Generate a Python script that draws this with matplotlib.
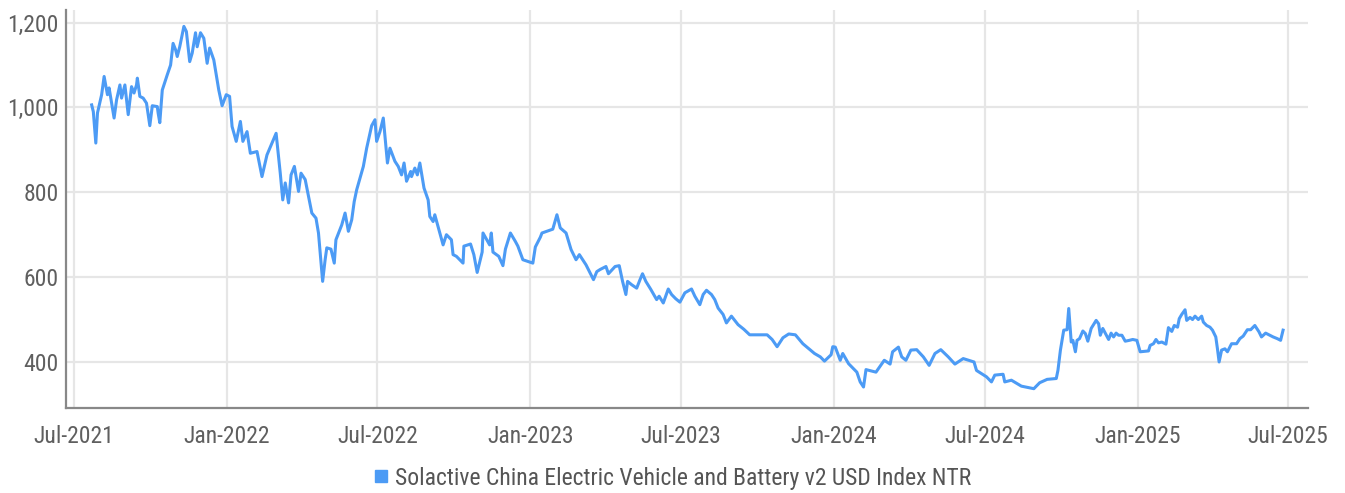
import pandas as pd
import matplotlib
matplotlib.use('Agg')
import matplotlib.pyplot as plt
import matplotlib.dates as mdates
from matplotlib import font_manager
from matplotlib.lines import Line2D
from matplotlib.ticker import FuncFormatter

# index level, as trading days counted from 2021-07-01
start_date = '2021-07-01'
day_offset = [
    21, 23, 26, 28, 33, 36, 40, 42, 45, 48, 51, 55, 57, 61, 65, 69, 72, 75, 76, 79,
    83, 87, 91, 94, 100, 101, 103, 106, 112, 116, 119, 122, 124, 127, 132, 135, 139, 142, 146, 148,
    152, 156, 160, 163, 168, 174, 178, 183, 187, 190, 195, 200, 203, 208, 212, 220, 226, 232, 243, 248,
    251, 254, 258, 261, 265, 270, 273, 278, 286, 291, 294, 299, 302, 304, 309, 313, 315, 322, 326, 330,
    334, 337, 340, 348, 352, 358, 362, 364, 368, 372, 377, 380, 386, 390, 394, 397, 400, 405, 406, 410,
    413, 416, 421, 426, 428, 432, 434, 444, 448, 454, 456, 460, 468, 469, 477, 481, 485, 491, 492, 500,
    502, 504, 511, 516, 519, 525, 531, 534, 540, 552, 555, 561, 563, 576, 581, 585, 592, 598, 604, 608,
    616, 625, 629, 633, 640, 643, 651, 656, 660, 664, 666, 671, 677, 681, 684, 688, 694, 701, 704, 709,
    715, 719, 724, 729, 735, 743, 747, 753, 757, 761, 767, 771, 775, 781, 785, 791, 799, 806, 813, 834,
    840, 846, 853, 860, 868, 877, 891, 898, 903, 911, 913, 916, 922, 925, 932, 936, 942, 946, 950, 953,
    965, 975, 982, 985, 992, 996, 1001, 1007, 1014, 1022, 1029, 1036, 1043, 1052, 1060, 1070, 1083, 1086, 1098, 1104,
    1108, 1118, 1120, 1128, 1140, 1155, 1162, 1171, 1182, 1184, 1187, 1191, 1195, 1197, 1200, 1202, 1205, 1207, 1210, 1214,
    1217, 1220, 1224, 1230, 1233, 1235, 1238, 1245, 1248, 1251, 1254, 1257, 1261, 1265, 1270, 1274, 1279, 1283, 1293, 1295,
    1299, 1302, 1305, 1309, 1314, 1317, 1321, 1324, 1328, 1330, 1333, 1337, 1339, 1343, 1346, 1349, 1353, 1357, 1359, 1363,
    1367, 1370, 1374, 1376, 1378, 1381, 1385, 1388, 1393, 1399, 1403, 1407, 1412, 1416, 1421, 1426, 1429, 1434, 1439, 1443,
    1448, 1452, 1455,
]
index_level = [
    1006, 990, 916, 987, 1030, 1073, 1030, 1046, 1010, 975, 1018, 1053, 1022, 1053, 983, 1049, 1034, 1053, 1069, 1026,
    1022, 1010, 957, 1004, 1002, 987, 964, 1041, 1077, 1100, 1151, 1136, 1120, 1143, 1191, 1179, 1108, 1128, 1176, 1143,
    1176, 1163, 1104, 1140, 1112, 1041, 1004, 1030, 1026, 955, 920, 967, 920, 943, 892, 896, 837, 888, 939, 845,
    782, 822, 775, 841, 861, 802, 845, 830, 751, 739, 704, 590, 641, 669, 666, 633, 688, 723, 751, 708,
    735, 778, 806, 861, 904, 957, 971, 920, 943, 975, 869, 904, 873, 861, 841, 869, 826, 849, 837, 857,
    841, 869, 810, 782, 743, 731, 747, 676, 700, 688, 653, 649, 633, 673, 678, 653, 611, 659, 704, 676,
    704, 659, 649, 627, 666, 704, 684, 673, 641, 633, 671, 694, 704, 713, 747, 716, 704, 665, 641, 653,
    629, 594, 613, 618, 625, 608, 625, 627, 590, 559, 590, 582, 574, 594, 608, 590, 571, 547, 555, 539,
    572, 559, 549, 541, 563, 572, 555, 535, 559, 569, 559, 547, 527, 512, 492, 508, 488, 477, 464, 464,
    453, 436, 457, 466, 464, 443, 420, 412, 402, 417, 436, 435, 404, 420, 396, 388, 376, 353, 341, 382,
    376, 404, 395, 424, 435, 412, 404, 428, 429, 412, 392, 420, 429, 412, 395, 408, 400, 380, 365, 353,
    369, 371, 353, 357, 343, 337, 351, 359, 361, 380, 428, 475, 476, 526, 447, 451, 424, 451, 455, 473,
    467, 449, 479, 498, 490, 463, 479, 453, 468, 459, 468, 463, 463, 449, 451, 453, 451, 424, 426, 439,
    443, 453, 445, 447, 442, 481, 472, 486, 482, 502, 512, 523, 498, 505, 500, 508, 500, 508, 494, 486,
    482, 475, 459, 431, 400, 428, 431, 424, 443, 443, 455, 461, 476, 476, 486, 471, 459, 468, 463, 459,
    455, 451, 475,
]
series_name = 'Solactive China Electric Vehicle and Battery v2 USD Index NTR'
y_ticks = [400, 600, 800, 1000, 1200]

available = {f.name for f in font_manager.fontManager.ttflist}
for fam in ['Liberation Sans Narrow', 'Roboto Condensed', 'DejaVu Sans']:
    if fam in available:
        plt.rcParams['font.family'] = fam
        break

dates = pd.Timestamp(start_date) + pd.to_timedelta(day_offset, unit='D')

fig = plt.figure(figsize=(13.45, 4.93), dpi=100)
ax = fig.add_axes([0.049, 0.172, 0.9235, 0.808])

line_color = '#4c9bf5'
ax.plot(dates, index_level, color=line_color, lw=2.2, zorder=3)

ax.set_xlim(pd.Timestamp('2021-06-21'), pd.Timestamp('2025-07-25'))
ax.set_ylim(291, 1230)
ax.set_yticks(y_ticks)
ax.yaxis.set_major_formatter(FuncFormatter(lambda v, p: f'{int(v):,}'))
ax.xaxis.set_major_locator(mdates.MonthLocator(bymonth=(1, 7)))
ax.xaxis.set_major_formatter(mdates.DateFormatter('%b-%Y'))

ax.grid(True, color='#e6e6e6', lw=1.6, zorder=0)
ax.set_axisbelow(True)
for s in ['top', 'right']:
    ax.spines[s].set_visible(False)
for s in ['left', 'bottom']:
    ax.spines[s].set_color('#888888')
    ax.spines[s].set_linewidth(1.6)

ax.tick_params(axis='both', length=0, labelsize=17, labelcolor='#5f5f5f')
ax.tick_params(axis='y', pad=5)
ax.tick_params(axis='x', pad=12)

handle = Line2D([], [], marker='s', color=line_color, lw=0, markersize=8)
fig.legend([handle], [series_name], loc='center', bbox_to_anchor=(0.5, 0.03),
           frameon=False, fontsize=17, labelcolor='#555555', handlelength=0.6,
           handletextpad=0.3)

fig.savefig('out.png', dpi=100)
